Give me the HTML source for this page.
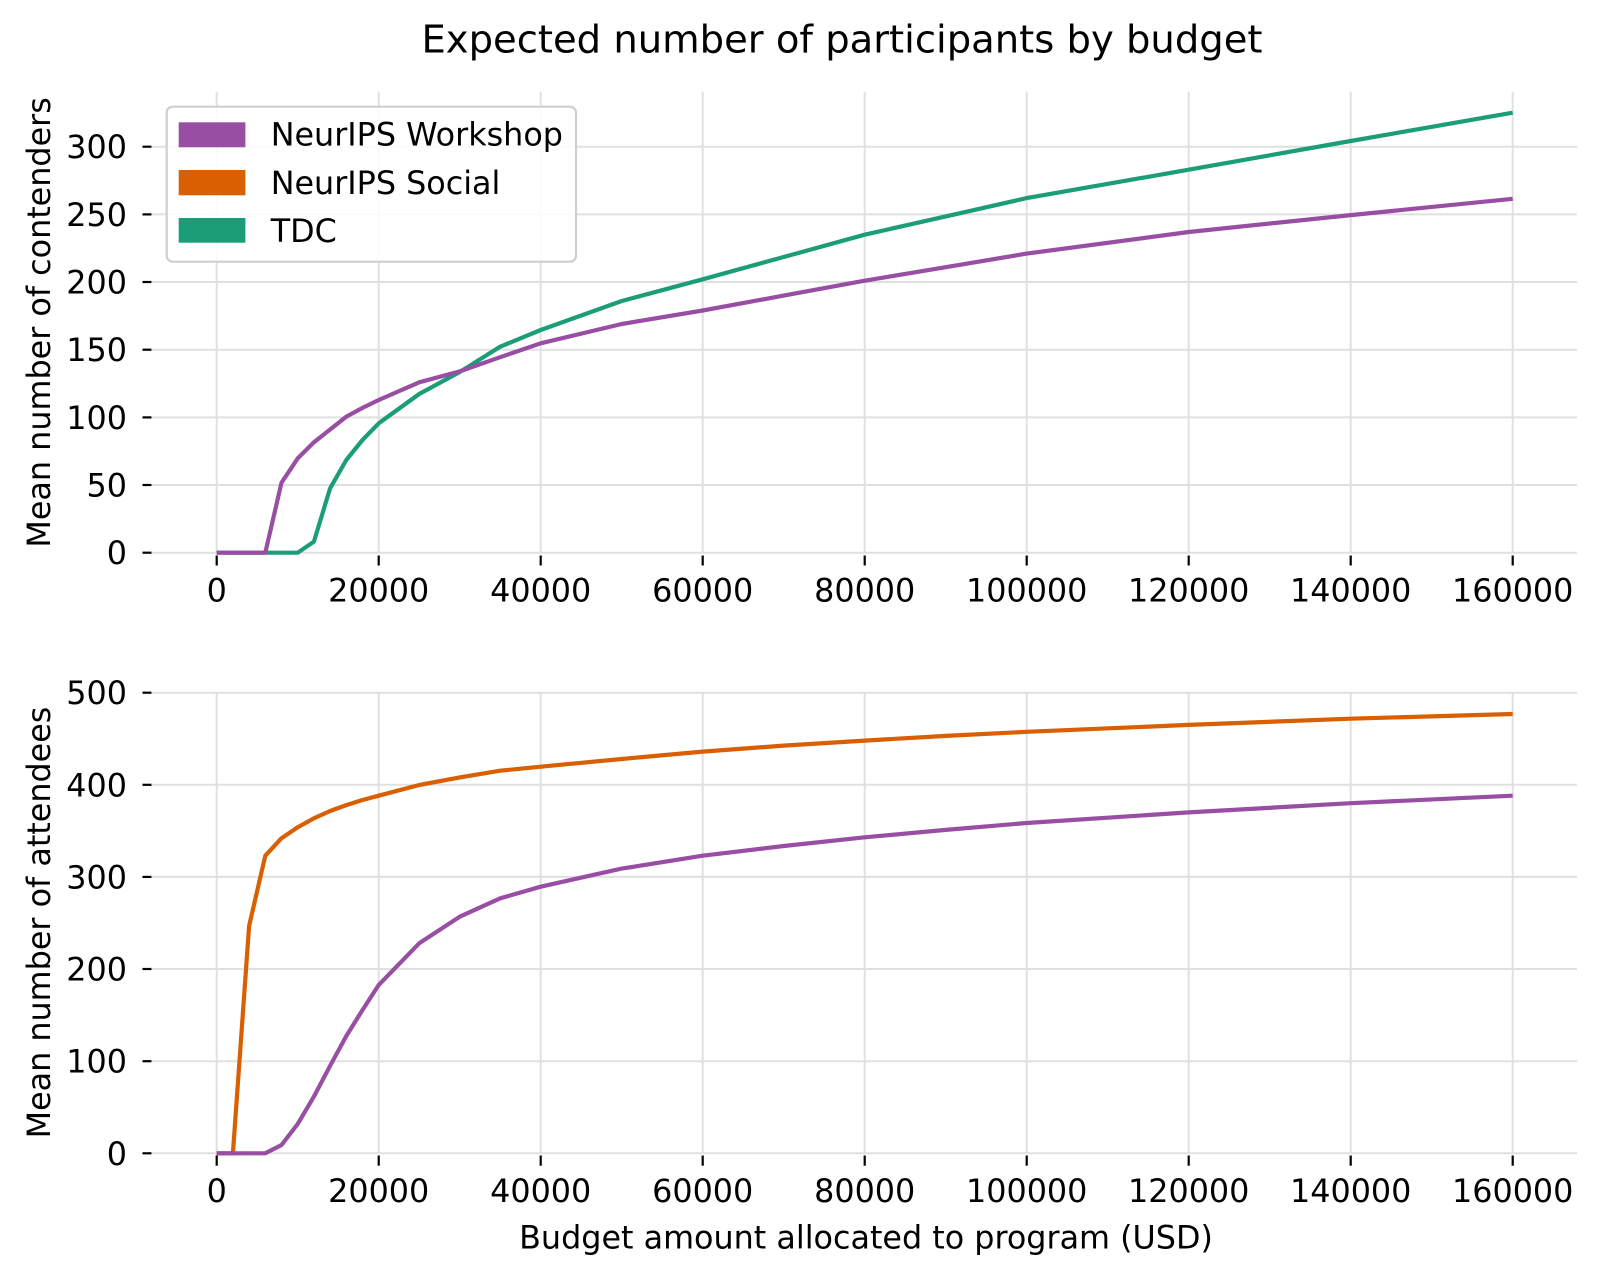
<!DOCTYPE html>
<html>
<head>
<meta charset="utf-8">
<style>
  html, body { margin: 0; padding: 0; background: #ffffff; }
  svg { display: block; }
  text { font-family: "DejaVu Sans", "Liberation Sans", sans-serif; fill: #000; }
</style>
</head>
<body>
<svg width="1600" height="1277" viewBox="0 0 1600 1277" xmlns="http://www.w3.org/2000/svg">
  <rect x="0" y="0" width="1600" height="1277" fill="#ffffff"/>

  <!-- Title -->
  <text x="842" y="52.3" font-size="38.5" text-anchor="middle">Expected number of participants by budget</text>

  <!-- ================= TOP AXES ================= -->
  <g stroke="#e0e0e0" stroke-width="2" fill="none">
    <line x1="152" y1="552.7" x2="1577" y2="552.7"/>
    <line x1="152" y1="485.0" x2="1577" y2="485.0"/>
    <line x1="152" y1="417.4" x2="1577" y2="417.4"/>
    <line x1="152" y1="349.7" x2="1577" y2="349.7"/>
    <line x1="152" y1="282.0" x2="1577" y2="282.0"/>
    <line x1="152" y1="214.4" x2="1577" y2="214.4"/>
    <line x1="152" y1="146.7" x2="1577" y2="146.7"/>
    <line x1="216.7" y1="91.7" x2="216.7" y2="553"/>
    <line x1="378.7" y1="91.7" x2="378.7" y2="553"/>
    <line x1="540.7" y1="91.7" x2="540.7" y2="553"/>
    <line x1="702.7" y1="91.7" x2="702.7" y2="553"/>
    <line x1="864.7" y1="91.7" x2="864.7" y2="553"/>
    <line x1="1026.7" y1="91.7" x2="1026.7" y2="553"/>
    <line x1="1188.7" y1="91.7" x2="1188.7" y2="553"/>
    <line x1="1350.7" y1="91.7" x2="1350.7" y2="553"/>
    <line x1="1512.7" y1="91.7" x2="1512.7" y2="553"/>
  </g>
  <g stroke="#000" stroke-width="2.2">
    <line x1="142.5" y1="552.7" x2="151.5" y2="552.7"/>
    <line x1="142.5" y1="485.0" x2="151.5" y2="485.0"/>
    <line x1="142.5" y1="417.4" x2="151.5" y2="417.4"/>
    <line x1="142.5" y1="349.7" x2="151.5" y2="349.7"/>
    <line x1="142.5" y1="282.0" x2="151.5" y2="282.0"/>
    <line x1="142.5" y1="214.4" x2="151.5" y2="214.4"/>
    <line x1="142.5" y1="146.7" x2="151.5" y2="146.7"/>
    <line x1="216.7" y1="555.5" x2="216.7" y2="565.5"/>
    <line x1="378.7" y1="555.5" x2="378.7" y2="565.5"/>
    <line x1="540.7" y1="555.5" x2="540.7" y2="565.5"/>
    <line x1="702.7" y1="555.5" x2="702.7" y2="565.5"/>
    <line x1="864.7" y1="555.5" x2="864.7" y2="565.5"/>
    <line x1="1026.7" y1="555.5" x2="1026.7" y2="565.5"/>
    <line x1="1188.7" y1="555.5" x2="1188.7" y2="565.5"/>
    <line x1="1350.7" y1="555.5" x2="1350.7" y2="565.5"/>
    <line x1="1512.7" y1="555.5" x2="1512.7" y2="565.5"/>
  </g>
  <g font-size="31.8" text-anchor="end">
    <text x="127" y="564.2">0</text>
    <text x="127" y="496.5">50</text>
    <text x="127" y="428.9">100</text>
    <text x="127" y="361.2">150</text>
    <text x="127" y="293.5">200</text>
    <text x="127" y="225.9">250</text>
    <text x="127" y="158.2">300</text>
  </g>
  <g font-size="31.8" text-anchor="middle">
    <text x="216.7" y="601.5">0</text>
    <text x="378.7" y="601.5">20000</text>
    <text x="540.7" y="601.5">40000</text>
    <text x="702.7" y="601.5">60000</text>
    <text x="864.7" y="601.5">80000</text>
    <text x="1026.7" y="601.5">100000</text>
    <text x="1188.7" y="601.5">120000</text>
    <text x="1350.7" y="601.5">140000</text>
    <text x="1512.7" y="601.5">160000</text>
  </g>
  <text transform="translate(50,322.4) rotate(-90)" font-size="31.8" text-anchor="middle">Mean number of contenders</text>

  <polyline fill="none" stroke="#1b9e77" stroke-width="4.2" stroke-linejoin="round"
    points="216.7,552.7 232.9,552.7 249.1,552.7 265.3,552.7 281.5,552.7 297.7,552.7 313.9,541.7 330.1,488.3 346.3,460.0 362.5,440.0 378.7,423.3 419.2,394.0 459.7,372.0 500.2,346.7 540.7,330.0 621.7,301.0 702.7,279.3 783.7,257.0 864.7,234.7 945.7,216.4 1026.7,198.1 1188.7,169.7 1350.7,141.0 1512.7,112.7"/>
  <polyline fill="none" stroke="#984ea3" stroke-width="4.2" stroke-linejoin="round"
    points="216.7,552.7 232.9,552.7 249.1,552.7 265.3,552.7 281.5,482.7 297.7,458.4 313.9,442.3 330.1,429.5 346.3,416.7 362.5,407.9 378.7,400.0 419.2,382.3 459.7,371.4 500.2,357.2 540.7,343.3 621.7,324.0 702.7,310.5 783.7,295.6 864.7,280.7 945.7,267.2 1026.7,253.6 1188.7,232.0 1350.7,215.1 1512.7,198.8"/>

  <!-- legend -->
  <rect x="166.7" y="106.7" width="409.3" height="155" rx="6" ry="6" fill="#ffffff" fill-opacity="0.85" stroke="#cfcfcf" stroke-width="2.2"/>
  <rect x="178.7" y="122.3" width="66.7" height="25" fill="#984ea3"/>
  <rect x="178.7" y="170.0" width="66.7" height="25.3" fill="#d95f02"/>
  <rect x="178.7" y="218.0" width="66.7" height="24.7" fill="#1b9e77"/>
  <g font-size="31.8">
    <text x="270.7" y="145.6">NeurIPS Workshop</text>
    <text x="270.7" y="193.9">NeurIPS Social</text>
    <text x="270.7" y="241.9">TDC</text>
  </g>

  <!-- ================= BOTTOM AXES ================= -->
  <g stroke="#e0e0e0" stroke-width="2" fill="none">
    <line x1="152" y1="1153.3" x2="1577" y2="1153.3"/>
    <line x1="152" y1="1061.2" x2="1577" y2="1061.2"/>
    <line x1="152" y1="969.0" x2="1577" y2="969.0"/>
    <line x1="152" y1="876.9" x2="1577" y2="876.9"/>
    <line x1="152" y1="784.8" x2="1577" y2="784.8"/>
    <line x1="152" y1="692.7" x2="1577" y2="692.7"/>
    <line x1="216.7" y1="692" x2="216.7" y2="1153.5"/>
    <line x1="378.7" y1="692" x2="378.7" y2="1153.5"/>
    <line x1="540.7" y1="692" x2="540.7" y2="1153.5"/>
    <line x1="702.7" y1="692" x2="702.7" y2="1153.5"/>
    <line x1="864.7" y1="692" x2="864.7" y2="1153.5"/>
    <line x1="1026.7" y1="692" x2="1026.7" y2="1153.5"/>
    <line x1="1188.7" y1="692" x2="1188.7" y2="1153.5"/>
    <line x1="1350.7" y1="692" x2="1350.7" y2="1153.5"/>
    <line x1="1512.7" y1="692" x2="1512.7" y2="1153.5"/>
  </g>
  <g stroke="#000" stroke-width="2.2">
    <line x1="142.5" y1="1153.3" x2="151.5" y2="1153.3"/>
    <line x1="142.5" y1="1061.2" x2="151.5" y2="1061.2"/>
    <line x1="142.5" y1="969.0" x2="151.5" y2="969.0"/>
    <line x1="142.5" y1="876.9" x2="151.5" y2="876.9"/>
    <line x1="142.5" y1="784.8" x2="151.5" y2="784.8"/>
    <line x1="142.5" y1="692.7" x2="151.5" y2="692.7"/>
    <line x1="216.7" y1="1155.5" x2="216.7" y2="1165.7"/>
    <line x1="378.7" y1="1155.5" x2="378.7" y2="1165.7"/>
    <line x1="540.7" y1="1155.5" x2="540.7" y2="1165.7"/>
    <line x1="702.7" y1="1155.5" x2="702.7" y2="1165.7"/>
    <line x1="864.7" y1="1155.5" x2="864.7" y2="1165.7"/>
    <line x1="1026.7" y1="1155.5" x2="1026.7" y2="1165.7"/>
    <line x1="1188.7" y1="1155.5" x2="1188.7" y2="1165.7"/>
    <line x1="1350.7" y1="1155.5" x2="1350.7" y2="1165.7"/>
    <line x1="1512.7" y1="1155.5" x2="1512.7" y2="1165.7"/>
  </g>
  <g font-size="31.8" text-anchor="end">
    <text x="127" y="1164.8">0</text>
    <text x="127" y="1072.7">100</text>
    <text x="127" y="980.5">200</text>
    <text x="127" y="888.4">300</text>
    <text x="127" y="796.3">400</text>
    <text x="127" y="704.2">500</text>
  </g>
  <g font-size="31.8" text-anchor="middle">
    <text x="216.7" y="1202">0</text>
    <text x="378.7" y="1202">20000</text>
    <text x="540.7" y="1202">40000</text>
    <text x="702.7" y="1202">60000</text>
    <text x="864.7" y="1202">80000</text>
    <text x="1026.7" y="1202">100000</text>
    <text x="1188.7" y="1202">120000</text>
    <text x="1350.7" y="1202">140000</text>
    <text x="1512.7" y="1202">160000</text>
  </g>
  <text transform="translate(50,922.5) rotate(-90)" font-size="31.8" text-anchor="middle">Mean number of attendees</text>
  <text x="866" y="1248.5" font-size="31.8" text-anchor="middle">Budget amount allocated to program (USD)</text>

  <polyline fill="none" stroke="#d95f02" stroke-width="4.2" stroke-linejoin="round"
    points="216.7,1153.3 232.9,1153.3 249.1,926.0 265.3,855.7 281.5,838.2 297.7,827.3 313.9,818.3 330.1,811.0 346.3,805.1 362.5,800.0 378.7,795.7 419.2,785.0 459.7,777.4 500.2,770.7 540.7,766.7 621.7,759.0 702.7,751.6 783.7,745.6 864.7,740.6 945.7,735.9 1026.7,731.8 1188.7,724.9 1350.7,718.7 1512.7,714.0"/>
  <polyline fill="none" stroke="#984ea3" stroke-width="4.2" stroke-linejoin="round"
    points="216.7,1153.3 232.9,1153.3 249.1,1153.3 265.3,1153.3 281.5,1145.0 297.7,1124.0 313.9,1096.6 330.1,1065.8 346.3,1036.0 362.5,1010.0 378.7,985.0 419.2,943.3 459.7,916.7 500.2,898.3 540.7,886.7 621.7,868.6 702.7,855.7 783.7,846.0 864.7,837.3 945.7,829.9 1026.7,823.0 1188.7,812.4 1350.7,803.2 1512.7,795.7"/>
</svg>
</body>
</html>
